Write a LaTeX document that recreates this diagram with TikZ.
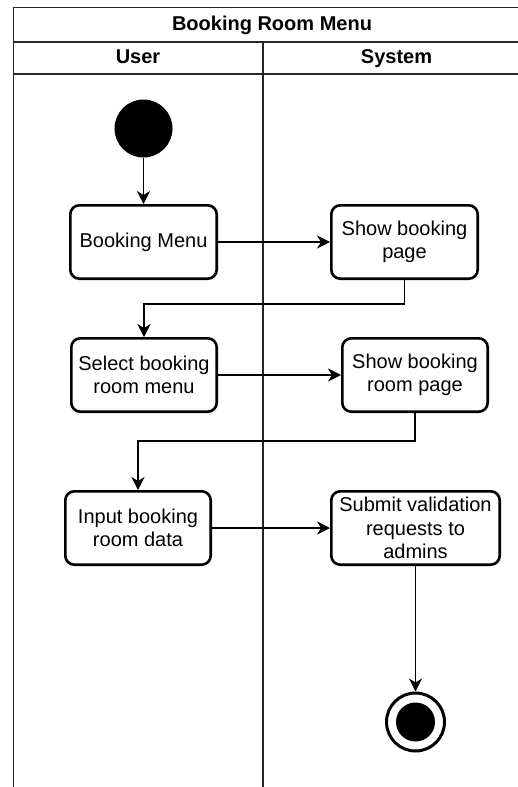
\documentclass[tikz,border=0pt]{standalone}
\usepackage{fontspec}
\setmainfont{Liberation Sans}
\usetikzlibrary{arrows.meta}
\begin{document}
\begin{tikzpicture}[x=1pt,y=-1pt,
  frame/.style={line width=1.5pt, draw=black!85},
  act/.style={draw, line width=2.6pt, rounded corners=9pt, align=center,
    font=\fontsize{20}{23.5}\selectfont, inner sep=0pt, minimum height=73.4pt},
  flow/.style={line width=1.3pt, -{Stealth[length=13pt,width=13pt,inset=4pt]}},
  hdr/.style={font=\bfseries\fontsize{20}{23}\selectfont, inner sep=0pt,
    text height=14.5pt, text depth=4pt}]
\useasboundingbox (0,0) rectangle (518,787);
\clip (0,0) rectangle (518,787);
% swimlane frame
\draw[frame] (13.5,800) -- (13.5,7.5) -- (540,7.5);
\draw[frame] (13.5,42) -- (540,42);
\draw[frame] (13.5,74) -- (540,74);
\draw[frame] (263,42) -- (263,800);
\node[hdr] (title) at (272,25) {Booking Room Menu};
\node[hdr] (user) at (138,58) {User};
\node[hdr] (system) at (396.5,58) {System};
% nodes
\node[circle, fill=black, minimum size=58pt, inner sep=0pt] (start) at (143.5,128.5) {};
\node[act, minimum width=146.4pt] (bm) at (143.5,242) {Booking Menu};
\node[act, minimum width=146.4pt] (sbp) at (404.5,242) {Show booking\\page};
\node[act, minimum width=145.4pt] (sel) at (144,375) {Select booking\\room menu};
\node[act, minimum width=145.4pt] (sbr) at (415,375) {Show booking\\room page};
\node[act, minimum width=145.4pt] (inp) at (138,528) {Input booking\\room data};
\node[act, minimum width=168.4pt] (sub) at (415.5,528) {Submit validation\\requests to\\admins};
\node[circle, draw, line width=3pt, minimum size=58pt, inner sep=0pt] (end) at (415.5,722) {};
\node[circle, fill=black, minimum size=39pt, inner sep=0pt] (endin) at (415.5,722) {};
% connectors
\coordinate (c1) at (404.5,304);
\coordinate (c2) at (415,441);
\draw[flow] (start) -- (bm);
\draw[flow] (bm) -- (sbp);
\draw[flow] (sbp.south) -- (c1) -| (sel.north);
\draw[flow] (sel) -- (sbr);
\draw[flow] (sbr.south) -- (c2) -| (inp.north);
\draw[flow] (inp) -- (sub);
\draw[flow] (sub) -- (end);
\end{tikzpicture}
\end{document}
